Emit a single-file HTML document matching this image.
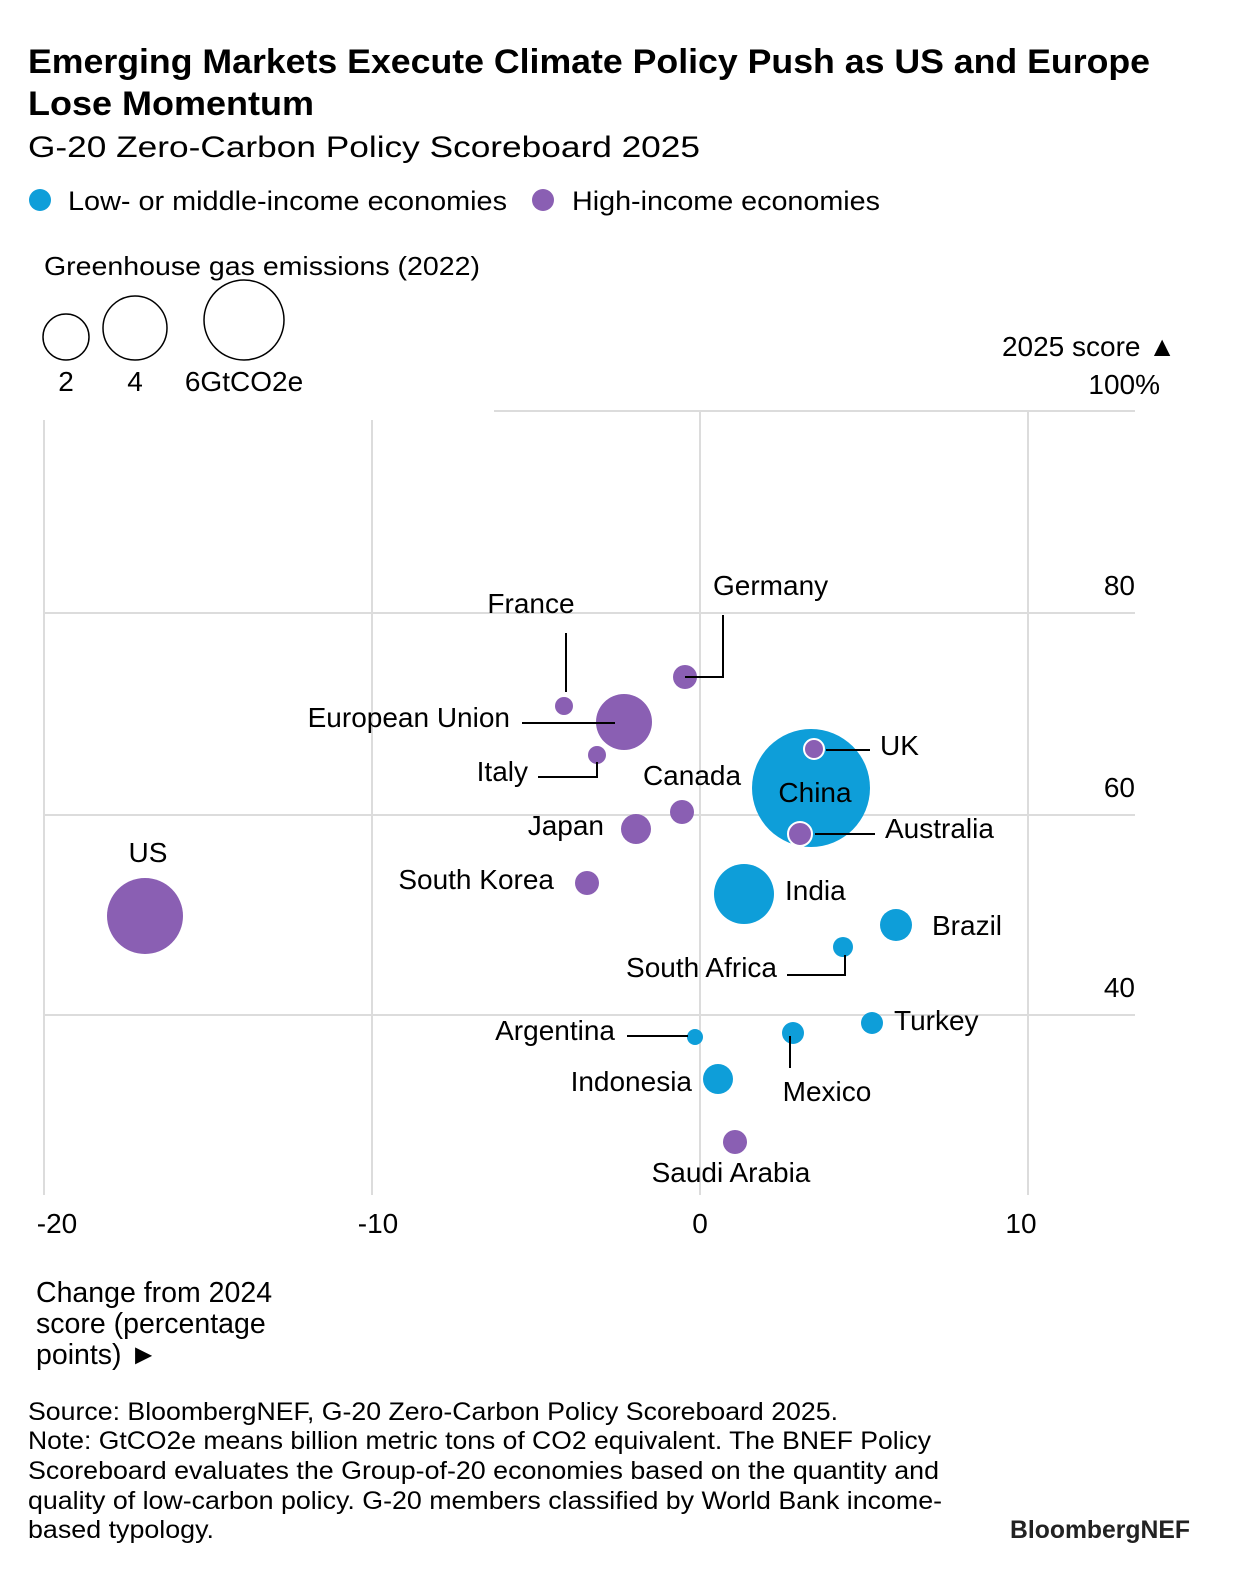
<!DOCTYPE html>
<html><head><meta charset="utf-8"><style>
html,body{margin:0;padding:0;background:#fff;}
svg{display:block;font-family:"Liberation Sans",Arial,sans-serif;}
</style></head><body>
<svg width="1240" height="1594" viewBox="0 0 1240 1594" xmlns="http://www.w3.org/2000/svg">
<g fill="#000">
<text x="28" y="73" font-size="34" font-weight="bold" textLength="1122" lengthAdjust="spacingAndGlyphs">Emerging Markets Execute Climate Policy Push as US and Europe</text>
<text x="28" y="115" font-size="34" font-weight="bold" textLength="286" lengthAdjust="spacingAndGlyphs">Lose Momentum</text>
<text x="28" y="157" font-size="30" textLength="672" lengthAdjust="spacingAndGlyphs">G-20 Zero-Carbon Policy Scoreboard 2025</text>
<circle cx="40" cy="200" r="11" fill="#0e9ed9"/>
<text x="68" y="210" font-size="27" textLength="439" lengthAdjust="spacingAndGlyphs">Low- or middle-income economies</text>
<circle cx="543" cy="200" r="11" fill="#8a5fb3"/>
<text x="572" y="210" font-size="27" textLength="308" lengthAdjust="spacingAndGlyphs">High-income economies</text>
<text x="44" y="275" font-size="26" textLength="436" lengthAdjust="spacingAndGlyphs">Greenhouse gas emissions (2022)</text>
</g>
<g fill="none" stroke="#000" stroke-width="1.5">
<circle cx="66" cy="337" r="23"/><circle cx="135" cy="328" r="32"/><circle cx="244" cy="320" r="40"/>
</g>
<g font-size="28" text-anchor="middle">
<text x="66" y="391">2</text><text x="135" y="391">4</text><text x="244" y="391">6GtCO2e</text>
</g>
<g font-size="28" text-anchor="end">
<text x="1176" y="356">2025 score ▲</text>
<text x="1160" y="394">100%</text>
<text x="1135" y="595">80</text>
<text x="1135" y="797">60</text>
<text x="1135" y="997">40</text>
</g>
<g stroke="#dcdcdc" stroke-width="2">
<line x1="494" y1="411" x2="1135" y2="411"/>
<line x1="44" y1="613" x2="1135" y2="613"/>
<line x1="44" y1="815" x2="1135" y2="815"/>
<line x1="44" y1="1015" x2="1135" y2="1015"/>
<line x1="44" y1="420" x2="44" y2="1195"/>
<line x1="372" y1="420" x2="372" y2="1195"/>
<line x1="700" y1="411" x2="700" y2="1195"/>
<line x1="1028" y1="411" x2="1028" y2="1195"/>
</g>
<g font-size="28" text-anchor="middle">
<text x="57" y="1233">-20</text><text x="378" y="1233">-10</text><text x="700" y="1233">0</text><text x="1021" y="1233">10</text>
</g>
<g font-size="28.5">
<text x="36" y="1302">Change from 2024</text>
<text x="36" y="1333">score (percentage</text>
<text x="36" y="1364">points) ►</text>
</g>
<g fill="#8a5fb3">
<circle cx="145" cy="916" r="38"/>
<circle cx="624" cy="722" r="28"/>
<circle cx="564" cy="706" r="9"/>
<circle cx="685" cy="677" r="12"/>
<circle cx="597" cy="755" r="9"/>
<circle cx="682" cy="812" r="12"/>
<circle cx="636" cy="829" r="15"/>
<circle cx="587" cy="883" r="12"/>
<circle cx="735" cy="1142" r="12"/>
</g>
<g fill="#0e9ed9">
<circle cx="811" cy="788" r="59"/>
<circle cx="744" cy="894" r="30"/>
<circle cx="896" cy="925" r="16"/>
<circle cx="843" cy="947" r="10"/>
<circle cx="872" cy="1023" r="11"/>
<circle cx="793" cy="1033" r="11"/>
<circle cx="695" cy="1037" r="8"/>
<circle cx="718" cy="1079" r="15"/>
</g>
<g fill="#8a5fb3" stroke="#fff" stroke-width="2">
<circle cx="814" cy="749" r="10"/>
<circle cx="800" cy="834" r="12"/>
</g>
<g stroke="#000" stroke-width="2" fill="none">
<line x1="566" y1="633" x2="566" y2="692"/>
<polyline points="685,677 723,677 723,615"/>
<line x1="522" y1="723" x2="615" y2="723"/>
<polyline points="597,762 597,777 538,777"/>
<line x1="826" y1="750" x2="870" y2="750"/>
<line x1="815" y1="834" x2="875" y2="834"/>
<polyline points="845,955 845,975 787,975"/>
<line x1="627" y1="1036" x2="688" y2="1036"/>
<line x1="790" y1="1036" x2="790" y2="1068"/>
</g>
<g font-size="28">
<text x="148" y="862" text-anchor="middle">US</text>
<text x="531" y="613" text-anchor="middle">France</text>
<text x="713" y="595">Germany</text>
<text x="510" y="727" text-anchor="end">European Union</text>
<text x="528" y="781" text-anchor="end">Italy</text>
<text x="692" y="785" text-anchor="middle">Canada</text>
<text x="604" y="835" text-anchor="end">Japan</text>
<text x="554" y="889" text-anchor="end">South Korea</text>
<text x="815" y="802" text-anchor="middle">China</text>
<text x="880" y="755">UK</text>
<text x="885" y="838">Australia</text>
<text x="785" y="900">India</text>
<text x="932" y="935">Brazil</text>
<text x="777" y="977" text-anchor="end">South Africa</text>
<text x="894" y="1030">Turkey</text>
<text x="615" y="1040" text-anchor="end">Argentina</text>
<text x="827" y="1101" text-anchor="middle">Mexico</text>
<text x="692" y="1091" text-anchor="end">Indonesia</text>
<text x="731" y="1182" text-anchor="middle">Saudi Arabia</text>
</g>
<g font-size="25">
<text x="28" y="1420" textLength="810" lengthAdjust="spacingAndGlyphs">Source: BloombergNEF, G-20 Zero-Carbon Policy Scoreboard 2025.</text>
<text x="28" y="1449" textLength="903" lengthAdjust="spacingAndGlyphs">Note: GtCO2e means billion metric tons of CO2 equivalent. The BNEF Policy</text>
<text x="28" y="1479" textLength="911" lengthAdjust="spacingAndGlyphs">Scoreboard evaluates the Group-of-20 economies based on the quantity and</text>
<text x="28" y="1509" textLength="914" lengthAdjust="spacingAndGlyphs">quality of low-carbon policy. G-20 members classified by World Bank income-</text>
<text x="28" y="1538" textLength="186" lengthAdjust="spacingAndGlyphs">based typology.</text>
<text x="1190" y="1538" text-anchor="end" font-weight="bold" textLength="180" lengthAdjust="spacingAndGlyphs" fill="#222">BloombergNEF</text>
</g>
</svg>
</body></html>
